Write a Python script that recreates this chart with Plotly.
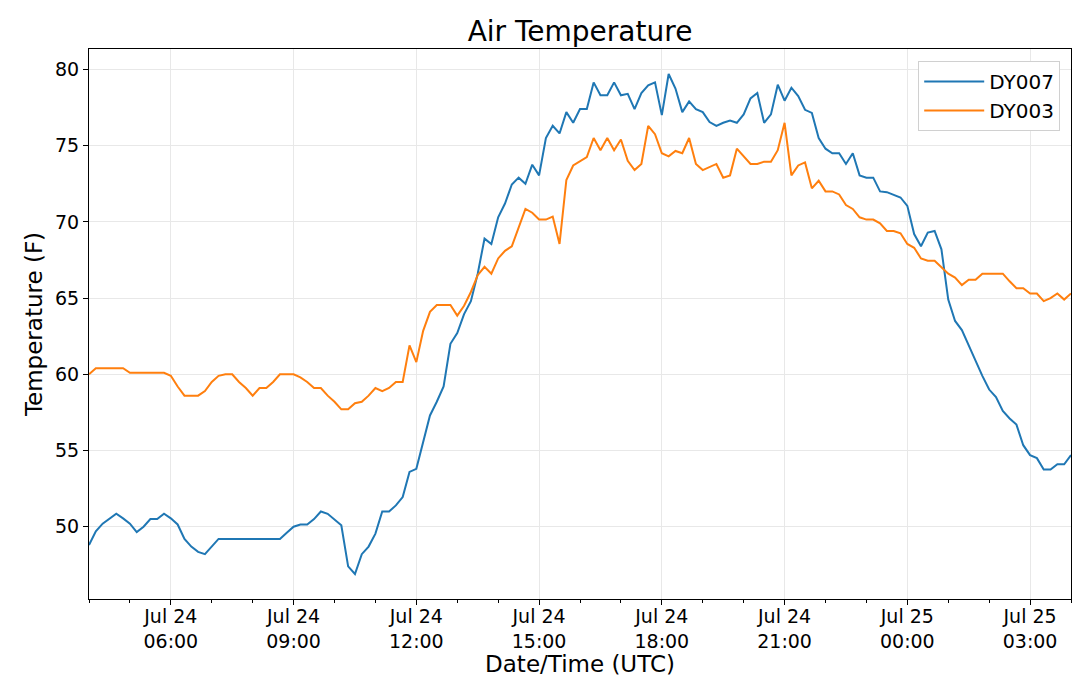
import plotly.graph_objects as go
import pandas as pd

# 10-minute readings, Jul 24 04:00 UTC -> Jul 25 04:00 UTC
times = pd.date_range("2019-07-24 04:00", "2019-07-25 04:00", freq="10min")

# DY007 air temperature (F), one row per hour
dy007 = [
    48.8, 49.7, 50.2, 50.55, 50.85, 50.55,      # 04
    50.2, 49.65, 50.0, 50.5, 50.5, 50.85,       # 05
    50.55, 50.15, 49.2, 48.7, 48.35, 48.2,      # 06
    48.7, 49.2, 49.2, 49.2, 49.2, 49.2,         # 07
    49.2, 49.2, 49.2, 49.2, 49.2, 49.6,         # 08
    50.0, 50.15, 50.15, 50.5, 51.0, 50.85,      # 09
    50.5, 50.1, 47.4, 46.9, 48.2, 48.7,         # 10
    49.55, 51.0, 51.0, 51.4, 51.95, 53.6,       # 11
    53.8, 55.6, 57.3, 58.2, 59.2, 62.0,         # 12
    62.7, 63.95, 64.8, 66.6, 68.9, 68.55,       # 13
    70.3, 71.2, 72.45, 72.9, 72.5, 73.75,       # 14
    73.05, 75.5, 76.3, 75.8, 77.2, 76.5,        # 15
    77.4, 77.4, 79.15, 78.3, 78.3, 79.15,       # 16
    78.3, 78.4, 77.4, 78.45, 78.95, 79.15,      # 17
    77.0, 79.7, 78.75, 77.2, 77.9, 77.4,        # 18
    77.2, 76.55, 76.3, 76.5, 76.65, 76.5,       # 19
    77.05, 78.1, 78.45, 76.5, 77.05, 79.0,      # 20
    77.95, 78.8, 78.25, 77.35, 77.15, 75.5,     # 21
    74.8, 74.5, 74.5, 73.8, 74.5, 73.05,        # 22
    72.9, 72.9, 72.0, 71.95, 71.8, 71.6,        # 23
    71.05, 69.2, 68.4, 69.3, 69.4, 68.2,        # 00
    64.9, 63.5, 62.9, 61.95, 60.9, 59.9,        # 01
    59.0, 58.5, 57.6, 57.1, 56.7, 55.35,        # 02
    54.7, 54.5, 53.75, 53.75, 54.1, 54.1,       # 03
    54.7,                                       # 04
]

# DY003 air temperature (F)
dy003 = [
    60.0, 60.4, 60.4, 60.4, 60.4, 60.4,         # 04
    60.1, 60.1, 60.1, 60.1, 60.1, 60.1,         # 05
    59.9, 59.2, 58.6, 58.6, 58.6, 58.9,         # 06
    59.5, 59.9, 60.0, 60.0, 59.5, 59.1,         # 07
    58.6, 59.1, 59.1, 59.5, 60.0, 60.0,         # 08
    60.0, 59.8, 59.5, 59.1, 59.1, 58.6,         # 09
    58.2, 57.7, 57.7, 58.1, 58.2, 58.6,         # 10
    59.1, 58.9, 59.1, 59.5, 59.5, 61.9,         # 11
    60.8, 62.85, 64.1, 64.55, 64.55, 64.55,     # 12
    63.85, 64.5, 65.4, 66.5, 67.05, 66.6,       # 13
    67.6, 68.1, 68.4, 69.7, 70.85, 70.6,        # 14
    70.15, 70.15, 70.35, 68.55, 72.75, 73.7,    # 15
    73.95, 74.25, 75.5, 74.7, 75.5, 74.7,       # 16
    75.4, 74.0, 73.4, 73.8, 76.3, 75.75,        # 17
    74.5, 74.3, 74.65, 74.5, 75.5, 73.8,        # 18
    73.4, 73.6, 73.8, 72.9, 73.05, 74.8,        # 19
    74.3, 73.8, 73.8, 73.95, 73.95, 74.7,       # 20
    76.5, 73.05, 73.7, 73.9, 72.2, 72.7,        # 21
    72.0, 72.0, 71.8, 71.1, 70.85, 70.3,        # 22
    70.15, 70.15, 69.9, 69.4, 69.4, 69.25,      # 23
    68.55, 68.3, 67.6, 67.45, 67.45, 67.05,     # 00
    66.6, 66.35, 65.85, 66.2, 66.2, 66.6,       # 01
    66.6, 66.6, 66.6, 66.1, 65.65, 65.65,       # 02
    65.3, 65.3, 64.8, 65.0, 65.3, 64.9,         # 03
    65.3,                                       # 04
]

tick_times = pd.date_range("2019-07-24 06:00", "2019-07-25 03:00", freq="3h")
tick_labels = [t.strftime("%b %d") + "<br>" + t.strftime("%H:%M") for t in tick_times]
hour_ticks = pd.date_range("2019-07-24 04:00", "2019-07-25 04:00", freq="1h")

fig = go.Figure()
fig.add_trace(go.Scatter(x=times, y=dy007, mode="lines", name="DY007",
                         line=dict(color="#1f77b4", width=2)))
fig.add_trace(go.Scatter(x=times, y=dy003, mode="lines", name="DY003",
                         line=dict(color="#ff7f0e", width=2)))

# page body has an 8px margin, so the figure is sized to fit inside it
fig.update_layout(
    width=1064, height=673,
    margin=dict(l=81, r=1, t=41, b=82),
    paper_bgcolor="white", plot_bgcolor="white",
    font=dict(family="DejaVu Sans", size=19, color="black"),
    title=dict(text="Air Temperature", x=0.5, xref="paper", xanchor="center",
               y=1 - 23 / 673, yref="container", yanchor="middle",
               font=dict(size=28)),
    legend=dict(x=0.989, y=0.978, xanchor="right", yanchor="top",
                bordercolor="#d0d0d0", borderwidth=1, bgcolor="white",
                font=dict(size=20), itemwidth=60),
)

fig.update_xaxes(
    range=[times[0], times[-1]], automargin=False,
    tickmode="array", tickvals=tick_times, ticktext=tick_labels,
    ticks="outside", ticklen=5, tickcolor="black", ticklabelstandoff=-5,
    showgrid=True, gridcolor="#e8e8e8", gridwidth=1,
    showline=True, linecolor="black", linewidth=1, mirror=True,
    minor=dict(tickmode="array", tickvals=hour_ticks, ticks="outside",
               ticklen=3, tickcolor="black", showgrid=False),
    title=dict(text="Date/Time (UTC)", font=dict(size=23), standoff=0),
    zeroline=False,
)
fig.update_yaxes(
    range=[45.26, 81.34], automargin=False,
    tickmode="array", tickvals=[50, 55, 60, 65, 70, 75, 80],
    ticks="outside", ticklen=5, tickcolor="black",
    showgrid=True, gridcolor="#e8e8e8", gridwidth=1,
    showline=True, linecolor="black", linewidth=1, mirror=True,
    title=dict(text="Temperature (F)", font=dict(size=23), standoff=5),
    zeroline=False,
)

fig.write_html("out.html")
